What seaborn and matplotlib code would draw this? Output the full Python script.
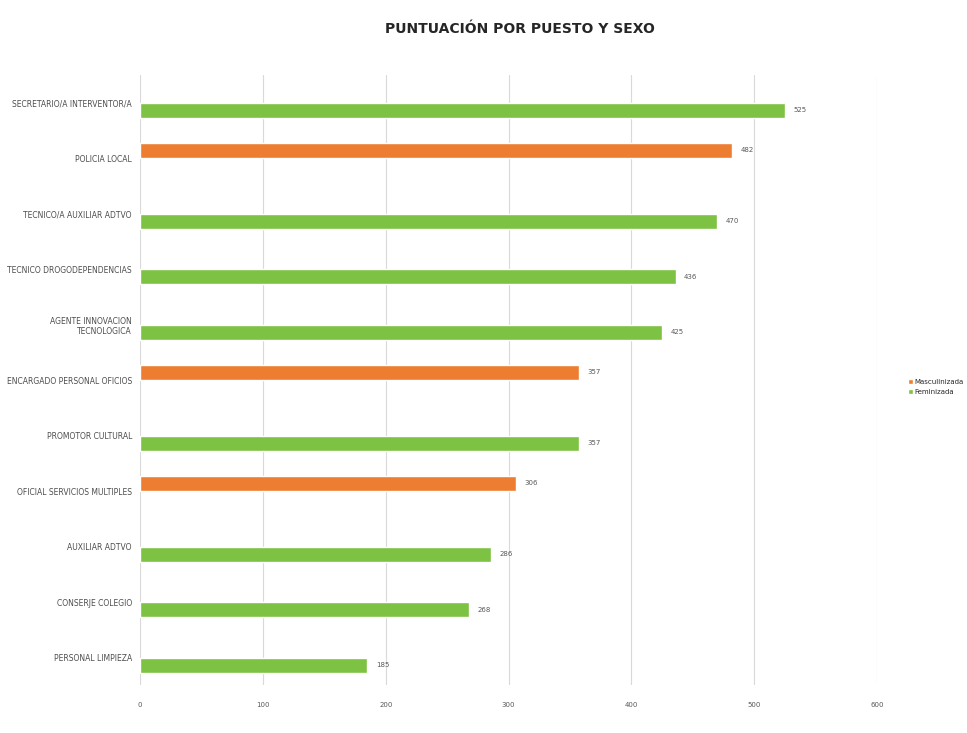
import pandas as pd
import matplotlib.pyplot as plt
import seaborn as sns

puestos = ['SECRETARIO/A INTERVENTOR/A', 'POLICIA LOCAL', 'TECNICO/A AUXILIAR ADTVO',
           'TECNICO DROGODEPENDENCIAS', 'AGENTE INNOVACION\nTECNOLOGICA',
           'ENCARGADO PERSONAL OFICIOS', 'PROMOTOR CULTURAL', 'OFICIAL SERVICIOS MULTIPLES',
           'AUXILIAR ADTVO', 'CONSERJE COLEGIO', 'PERSONAL LIMPIEZA']
puntuacion = [525, 482, 470, 436, 425, 357, 357, 306, 286, 268, 185]
sexo = ['Feminizada', 'Masculinizada', 'Feminizada', 'Feminizada', 'Feminizada',
        'Masculinizada', 'Feminizada', 'Masculinizada', 'Feminizada', 'Feminizada', 'Feminizada']
hue_order = ['Masculinizada', 'Feminizada']
colores = {'Masculinizada': '#ED7D31', 'Feminizada': '#7DC242'}

df = pd.DataFrame({'puesto': puestos, 'puntuacion': puntuacion, 'sexo': sexo})

sns.set_style("whitegrid")
plt.rcParams['font.family'] = ['Liberation Sans Narrow', 'DejaVu Sans']

fig = plt.figure(figsize=(9.67, 7.33), dpi=100)
ax = fig.add_axes([0.145, 0.065, 0.762, 0.833])

sns.barplot(data=df, y='puesto', x='puntuacion', hue='sexo', hue_order=hue_order,
            order=puestos, palette=colores, width=0.55, dodge=True, saturation=1, ax=ax)

for cont in ax.containers:
    ax.bar_label(cont, padding=6, fontsize=5, color='#595959')

ax.set_xlim(0, 600)
ax.set_xticks(range(0, 601, 100))
ax.grid(axis='x', color='#d9d9d9', lw=0.8)
ax.grid(axis='y', visible=False)
for s in ax.spines.values():
    s.set_visible(False)
ax.tick_params(axis='x', labelsize=5, labelcolor='#595959', length=0, pad=12)
ax.tick_params(axis='y', labelsize=5.5, labelcolor='#4d4d4d', length=0, pad=6)
ax.set_xlabel('')
ax.set_ylabel('')

ax.legend(loc='center left', bbox_to_anchor=(0.933, 0.472), bbox_transform=fig.transFigure,
          frameon=False, fontsize=5, handlelength=0.6, handleheight=0.6,
          handletextpad=0.3, labelspacing=0.6)

fig.suptitle('PUNTUACIÓN POR PUESTO Y SEXO', x=0.538, y=0.97, fontsize=10,
             fontweight='bold', color='#262626')

plt.savefig('out.png', dpi=100)
